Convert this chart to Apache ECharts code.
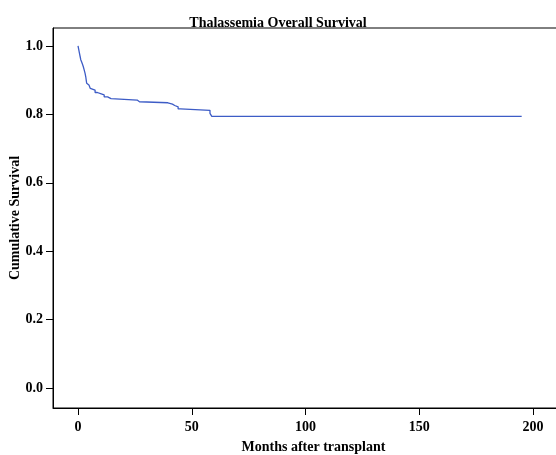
<!DOCTYPE html>
<html>
<head>
<meta charset="utf-8">
<script src="https://cdn.jsdelivr.net/npm/echarts@6/dist/echarts.min.js"></script>
<style>html,body{margin:0;padding:0;background:#fff}#c{width:556px;height:455px}</style>
</head>
<body>
<div id="c"></div>
<script>
const titleText = 'Thalassemia Overall Survival';
const xName = 'Months after transplant';
const yName = 'Cumulative Survival';
const months = [0, 0.3, 0.6, 0.9, 1.2, 1.6, 2.0, 2.3, 2.7, 3.1, 3.4, 3.6, 3.8, 4.2, 4.8, 5.4, 6.2, 7.5, 8.5, 10.2, 11.5, 13.0, 14.5, 26.0, 27.0, 39.5, 41.5, 42.5, 44.0, 45.0, 58.0, 58.8, 195];
const survival = [1.0, 0.99, 0.98, 0.97, 0.96, 0.953, 0.946, 0.94, 0.93, 0.92, 0.91, 0.90, 0.891, 0.886, 0.881, 0.876, 0.871, 0.864, 0.860, 0.857, 0.851, 0.846, 0.842, 0.837, 0.834, 0.830, 0.826, 0.822, 0.816, 0.812, 0.803, 0.794, 0.794];
const xTicks = [0, 50, 100, 150, 200];
const yTicks = [0, 0.2, 0.4, 0.6, 0.8, 1.0];

const font = 'Liberation Serif, Times New Roman, serif';
const chart = echarts.init(document.getElementById('c'), null, {renderer: 'canvas'});
chart.setOption({
  animation: false,
  backgroundColor: '#fff',
  title: {
    text: titleText, left: 'center', top: 11,
    textStyle: {fontFamily: font, fontWeight: 'bold', fontSize: 14, color: '#000'}
  },
  grid: {left: 53, top: 28, width: 521, height: 380, show: true, borderColor: '#000', borderWidth: 1,
    backgroundColor: 'transparent', containLabel: false, outerBoundsMode: 'none'},
  xAxis: {
    type: 'value', min: -11, max: 218,
    name: xName, nameLocation: 'middle', nameGap: 32, nameMoveOverlap: false,
    nameTextStyle: {fontFamily: font, fontWeight: 'bold', fontSize: 14, color: '#000'},
    axisLine: {show: true, onZero: false, lineStyle: {color: '#000', width: 1}},
    axisTick: {show: true, length: 7, customValues: xTicks, lineStyle: {color: '#000'}},
    axisLabel: {customValues: xTicks, margin: 12, fontFamily: font, fontWeight: 'bold', fontSize: 14, color: '#000'},
    splitLine: {show: false}
  },
  yAxis: {
    type: 'value', min: -0.0585, max: 1.0526,
    name: yName, nameLocation: 'middle', nameGap: 31, nameRotate: 90, nameMoveOverlap: false,
    nameTextStyle: {fontFamily: font, fontWeight: 'bold', fontSize: 14, color: '#000'},
    axisLine: {show: true, onZero: false, lineStyle: {color: '#000', width: 1}},
    axisTick: {show: true, length: 7, customValues: yTicks, lineStyle: {color: '#000'}},
    axisLabel: {customValues: yTicks, margin: 10, fontFamily: font, fontWeight: 'bold', fontSize: 14, color: '#000',
      formatter: v => v.toFixed(1)},
    splitLine: {show: false}
  },
  series: [{
    type: 'line', step: 'end', symbol: 'none',
    data: months.map((m, i) => [m, survival[i]]),
    lineStyle: {color: '#3d5cc6', width: 1.3}
  }]
});
</script>
</body>
</html>
